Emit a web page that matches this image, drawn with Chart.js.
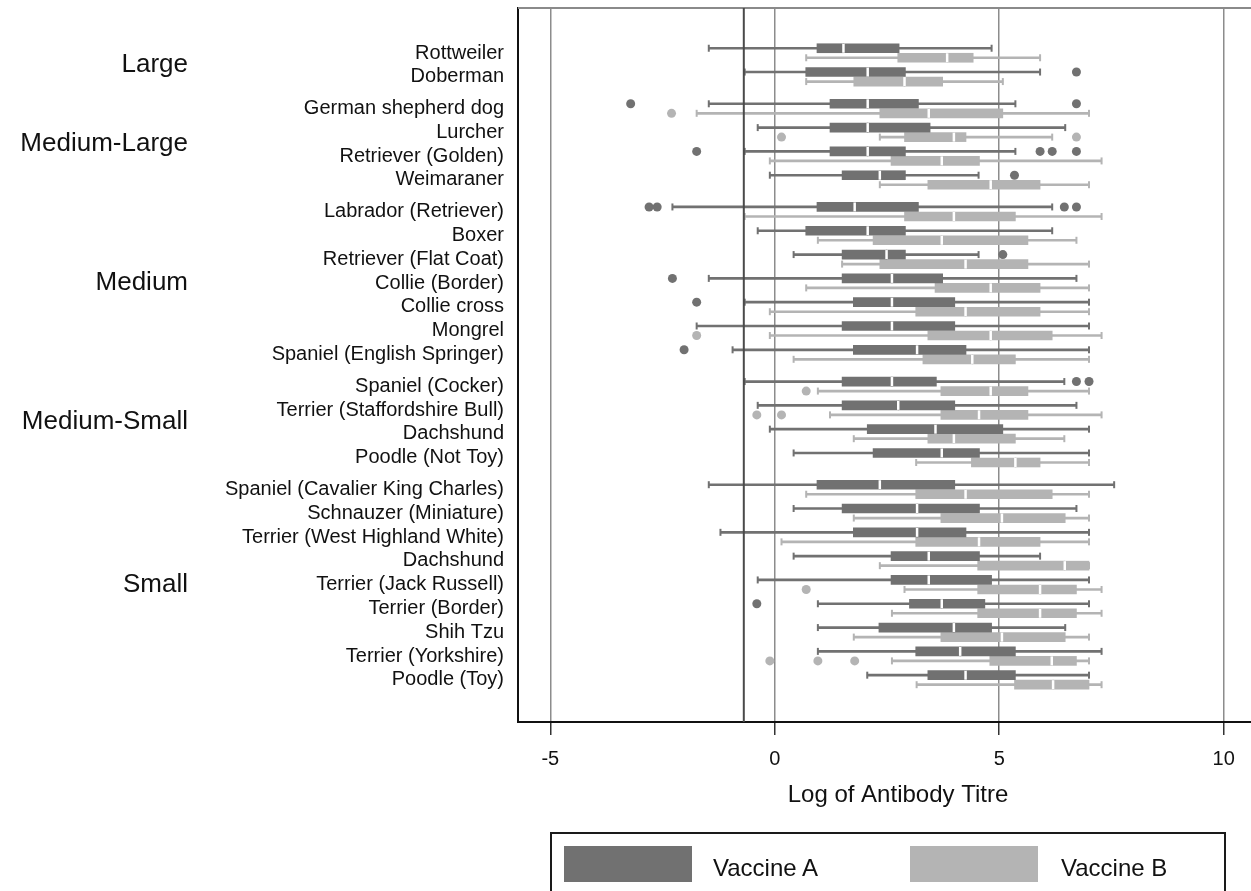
<!DOCTYPE html>
<html>
<head>
<meta charset="utf-8">
<title>Antibody titre by breed</title>
<script src="https://cdn.jsdelivr.net/npm/chart.js@4.4.1/dist/chart.umd.min.js"></script>
<style>
    html, body { margin: 0; padding: 0; background: #fff; overflow: hidden; }
    #wrap { position: relative; width: 1251px; height: 891px; overflow: hidden; }
    #chart { position: absolute; left: 0; top: 0; }
    #legend {
        position: absolute; left: 550px; top: 832px; width: 676px; height: 90px;
        border: 2px solid #1a1a1a; box-sizing: border-box;
        font-family: "Liberation Sans", Arial, Helvetica, sans-serif; font-size: 24px; color: #111;
    }
    #legend .swatch { position: absolute; top: 12px; width: 128px; height: 36px; }
    #legend .text { position: absolute; top: 16px; line-height: 36px; white-space: nowrap; }
</style>
</head>
<body>
<div id="wrap">
    <!-- the original figure is cropped on the right, so the canvas runs past the window edge -->
    <canvas id="chart" width="1278" height="891"></canvas>
    <div id="legend"></div>
</div>
<script>
const breeds = [
    'Rottweiler', 'Doberman',
    'German shepherd dog', 'Lurcher', 'Retriever (Golden)', 'Weimaraner',
    'Labrador (Retriever)', 'Boxer', 'Retriever (Flat Coat)', 'Collie (Border)', 'Collie cross', 'Mongrel', 'Spaniel (English Springer)',
    'Spaniel (Cocker)', 'Terrier (Staffordshire Bull)', 'Dachshund', 'Poodle (Not Toy)',
    'Spaniel (Cavalier King Charles)', 'Schnauzer (Miniature)', 'Terrier (West Highland White)', 'Dachshund',
    'Terrier (Jack Russell)', 'Terrier (Border)', 'Shih Tzu', 'Terrier (Yorkshire)', 'Poodle (Toy)'
];
const sizeGroups = ['Large', 'Medium-Large', 'Medium', 'Medium-Small', 'Small'];
const breedGroup = [0, 0, 1, 1, 1, 1, 2, 2, 2, 2, 2, 2, 2, 3, 3, 3, 3, 4, 4, 4, 4, 4, 4, 4, 4, 4];

const vaccineLabels = ['Vaccine A', 'Vaccine B'];
const xTicks = [-5, 0, 5, 10];
const protectiveLine = -0.69; // log(0.5)

// Vaccine A: whisker ends, quartiles, median
const aMin = [-1.47, -0.67, -1.47, -0.38, -0.67, -0.11, -2.28, -0.38, 0.42, -1.47, -0.67, -1.74, -0.94,
              -0.67, -0.38, -0.11, 0.42, -1.47, 0.42, -1.21, 0.42, -0.38, 0.96, 0.96, 0.96, 2.06];
const aQ1 = [0.94, 0.69, 1.23, 1.23, 1.23, 1.50, 0.94, 0.69, 1.50, 1.50, 1.75, 1.50, 1.75,
             1.50, 1.50, 2.06, 2.19, 0.94, 1.50, 1.75, 2.59, 2.59, 3.00, 2.32, 3.14, 3.41];
const aMed = [1.53, 2.07, 2.07, 2.07, 2.07, 2.34, 1.78, 2.07, 2.49, 2.61, 2.61, 2.61, 3.17,
              2.61, 2.75, 3.58, 3.72, 2.34, 3.17, 3.17, 3.43, 3.43, 3.72, 3.99, 4.13, 4.25];
const aQ3 = [2.77, 2.91, 3.20, 3.46, 2.91, 2.91, 3.20, 2.91, 2.91, 3.74, 4.01, 4.01, 4.26,
             3.60, 4.01, 5.08, 4.56, 4.01, 4.56, 4.26, 4.56, 4.83, 4.68, 4.83, 5.36, 5.36];
const aMax = [4.83, 5.91, 5.36, 6.47, 5.36, 4.54, 6.18, 6.18, 4.54, 6.72, 7.00, 7.00, 7.00,
              6.45, 6.72, 7.00, 7.00, 7.56, 6.72, 7.00, 5.91, 7.00, 7.00, 6.47, 7.28, 7.00];
// [breed index, value]
const aOutliers = [[1, 6.72], [2, -3.21], [2, 6.72], [4, -1.74], [4, 5.91], [4, 6.18], [4, 6.72], [5, 5.34],
                   [6, -2.80], [6, -2.62], [6, 6.45], [6, 6.72], [8, 5.08], [9, -2.28], [10, -1.74],
                   [12, -2.02], [13, 6.72], [13, 7.00], [22, -0.40]];

// Vaccine B
const bMin = [0.70, 0.70, -1.74, 2.34, -0.11, 2.34, -0.67, 0.96, 1.50, 0.70, -0.11, -0.11, 0.42,
              0.96, 1.23, 1.76, 3.15, 0.70, 1.76, 0.15, 2.34, 2.89, 2.61, 1.76, 2.61, 3.16];
const bQ1 = [2.74, 1.76, 2.34, 2.89, 2.59, 3.41, 2.89, 2.19, 2.34, 3.57, 3.14, 3.41, 3.30,
             3.70, 3.70, 3.41, 4.38, 3.14, 3.70, 3.14, 4.52, 4.52, 4.52, 3.70, 4.79, 5.34];
const bMed = [3.84, 2.89, 3.43, 3.99, 3.72, 4.81, 3.99, 3.72, 4.25, 4.81, 4.25, 4.81, 4.40,
              4.81, 4.55, 3.99, 5.36, 4.25, 5.06, 4.55, 6.46, 5.91, 5.91, 5.06, 6.17, 6.20];
const bQ3 = [4.42, 3.74, 5.08, 4.26, 4.56, 5.91, 5.36, 5.64, 5.64, 5.91, 5.91, 6.18, 5.36,
             5.64, 5.64, 5.36, 5.91, 6.18, 6.47, 5.91, 7.00, 6.72, 6.72, 6.47, 6.72, 7.00];
const bMax = [5.91, 5.08, 7.00, 6.18, 7.28, 7.00, 7.28, 6.72, 7.00, 7.00, 7.00, 7.28, 7.00,
              7.00, 7.28, 6.45, 7.00, 7.00, 7.00, 7.00, 7.00, 7.28, 7.28, 7.00, 7.00, 7.28];
const bOutliers = [[2, -2.30], [3, 0.15], [3, 6.72], [11, -1.74], [13, 0.70], [14, -0.40], [14, 0.15],
                   [21, 0.70], [24, -0.11], [24, 0.96], [24, 1.78]];

const darkGrey = '#717171';
const lightGrey = '#b4b4b4';
const fontFamily = '"Liberation Sans", Arial, Helvetica, sans-serif';

// row position: one unit per breed, a third of a row between size groups
const GROUP_GAP = 1 / 3;
const rowPos = breeds.map((b, i) => i + GROUP_GAP * breedGroup[i]);

function boxPlotDatasets(label, color, mins, q1s, meds, q3s, maxs, outliers, shift) {
    const at = i => rowPos[i] + shift;
    return [
        {
            type: 'bar', label: label, order: 5, grouped: false, barThickness: 2,
            backgroundColor: color,
            data: breeds.map((b, i) => ({ y: at(i), x: [mins[i], maxs[i]] }))
        },
        {
            type: 'bar', label: label, order: 4, grouped: false, barThickness: 9,
            backgroundColor: color,
            data: breeds.map((b, i) => ({ y: at(i), x: [q1s[i], meds[i]] }))
        },
        {
            type: 'bar', label: label, order: 4, grouped: false, barThickness: 9,
            backgroundColor: color,
            data: breeds.map((b, i) => ({ y: at(i), x: [meds[i], q3s[i]] }))
        },
        {
            // median gap
            type: 'scatter', label: label, order: 2,
            pointStyle: 'line', pointRotation: 90, pointRadius: 4.5,
            pointBorderColor: '#fff', pointBorderWidth: 2.5,
            data: breeds.map((b, i) => ({ x: meds[i], y: at(i) }))
        },
        {
            // whisker caps
            type: 'scatter', label: label, order: 3,
            pointStyle: 'line', pointRotation: 90, pointRadius: 3.5,
            pointBorderColor: color, pointBorderWidth: 2,
            data: breeds.flatMap((b, i) => [{ x: mins[i], y: at(i) }, { x: maxs[i], y: at(i) }])
        },
        {
            type: 'scatter', label: label, order: 1,
            pointStyle: 'circle', pointRadius: 4.5, pointBorderWidth: 0,
            pointBackgroundColor: color, pointBorderColor: color,
            data: outliers.map(([i, v]) => ({ x: v, y: at(i) }))
        }
    ];
}

const extraLines = {
    id: 'extraLines',
    afterDatasetsDraw(chart) {
        const { ctx, chartArea, scales } = chart;
        ctx.save();
        // top frame line
        ctx.strokeStyle = '#8a8a8a';
        ctx.lineWidth = 2;
        ctx.beginPath();
        ctx.moveTo(chartArea.left, chartArea.top);
        ctx.lineTo(chartArea.right, chartArea.top);
        ctx.stroke();
        // protective titre reference line
        const px = scales.x.getPixelForValue(protectiveLine);
        ctx.strokeStyle = '#4a4a4a';
        ctx.beginPath();
        ctx.moveTo(px, chartArea.top);
        ctx.lineTo(px, chartArea.bottom);
        ctx.stroke();
        ctx.restore();
    },
    afterDraw(chart) {
        const { ctx, chartArea, scales } = chart;
        ctx.save();
        ctx.font = '26px ' + fontFamily;
        ctx.fillStyle = '#111';
        ctx.textAlign = 'right';
        ctx.textBaseline = 'middle';
        sizeGroups.forEach((name, g) => {
            const rows = rowPos.filter((p, i) => breedGroup[i] === g);
            const mid = rows.reduce((s, p) => s + p, 0) / rows.length;
            ctx.fillText(name, chartArea.left - 330, scales.y.getPixelForValue(mid));
        });
        ctx.restore();
    }
};

const chart = new Chart(document.getElementById('chart'), {
    type: 'bar',
    data: {
        datasets: [
            ...boxPlotDatasets(vaccineLabels[0], darkGrey, aMin, aQ1, aMed, aQ3, aMax, aOutliers, -0.2),
            ...boxPlotDatasets(vaccineLabels[1], lightGrey, bMin, bQ1, bMed, bQ3, bMax, bOutliers, 0.2)
        ]
    },
    options: {
        indexAxis: 'y',
        responsive: false,
        animation: false,
        events: [],
        layout: { autoPadding: false, padding: { top: 8, right: 0, bottom: 81, left: 0 } },
        plugins: {
            legend: { display: false },
            tooltip: { enabled: false }
        },
        scales: {
            x: {
                type: 'linear',
                position: 'bottom',
                min: -5.72,
                max: 11.21,
                z: 1,
                afterBuildTicks: s => { s.ticks = xTicks.map(v => ({ value: v })); },
                afterFit: s => { s.height = 88; s.paddingLeft = 0; s.paddingRight = 0; },
                grid: {
                    color: '#8c8c8c', lineWidth: 1.5,
                    drawTicks: true, tickLength: 13, tickColor: '#333', tickWidth: 1.5
                },
                border: { display: true, color: '#111', width: 2 },
                ticks: {
                    autoSkip: false, maxRotation: 0, padding: 12, color: '#111',
                    font: { family: fontFamily, size: 20 }
                },
                title: {
                    display: true, text: 'Log of Antibody Titre', color: '#111',
                    padding: 0, font: { family: fontFamily, size: 24 }
                }
            },
            y: {
                type: 'linear',
                reverse: true,
                offset: false,
                min: -1.89,
                max: 28.1,
                afterBuildTicks: s => { s.ticks = rowPos.map(v => ({ value: v })); },
                afterFit: s => { s.width = 518; s.paddingTop = 0; s.paddingBottom = 0; },
                grid: { display: false, drawTicks: false, offset: false },
                border: { display: true, color: '#111', width: 2 },
                ticks: {
                    autoSkip: false, padding: 14, color: '#111',
                    font: { family: fontFamily, size: 20 },
                    callback: (value, index) => breeds[index]
                }
            }
        }
    },
    plugins: [extraLines]
});

// legend
const legendEl = document.getElementById('legend');
const swatchLeft = [12, 358];
const textLeft = [161, 509];
vaccineLabels.forEach((name, k) => {
    const sw = document.createElement('div');
    sw.className = 'swatch';
    sw.style.left = swatchLeft[k] + 'px';
    sw.style.background = k === 0 ? darkGrey : lightGrey;
    legendEl.appendChild(sw);
    const tx = document.createElement('div');
    tx.className = 'text';
    tx.style.left = textLeft[k] + 'px';
    tx.textContent = name;
    legendEl.appendChild(tx);
});
</script>
</body>
</html>
